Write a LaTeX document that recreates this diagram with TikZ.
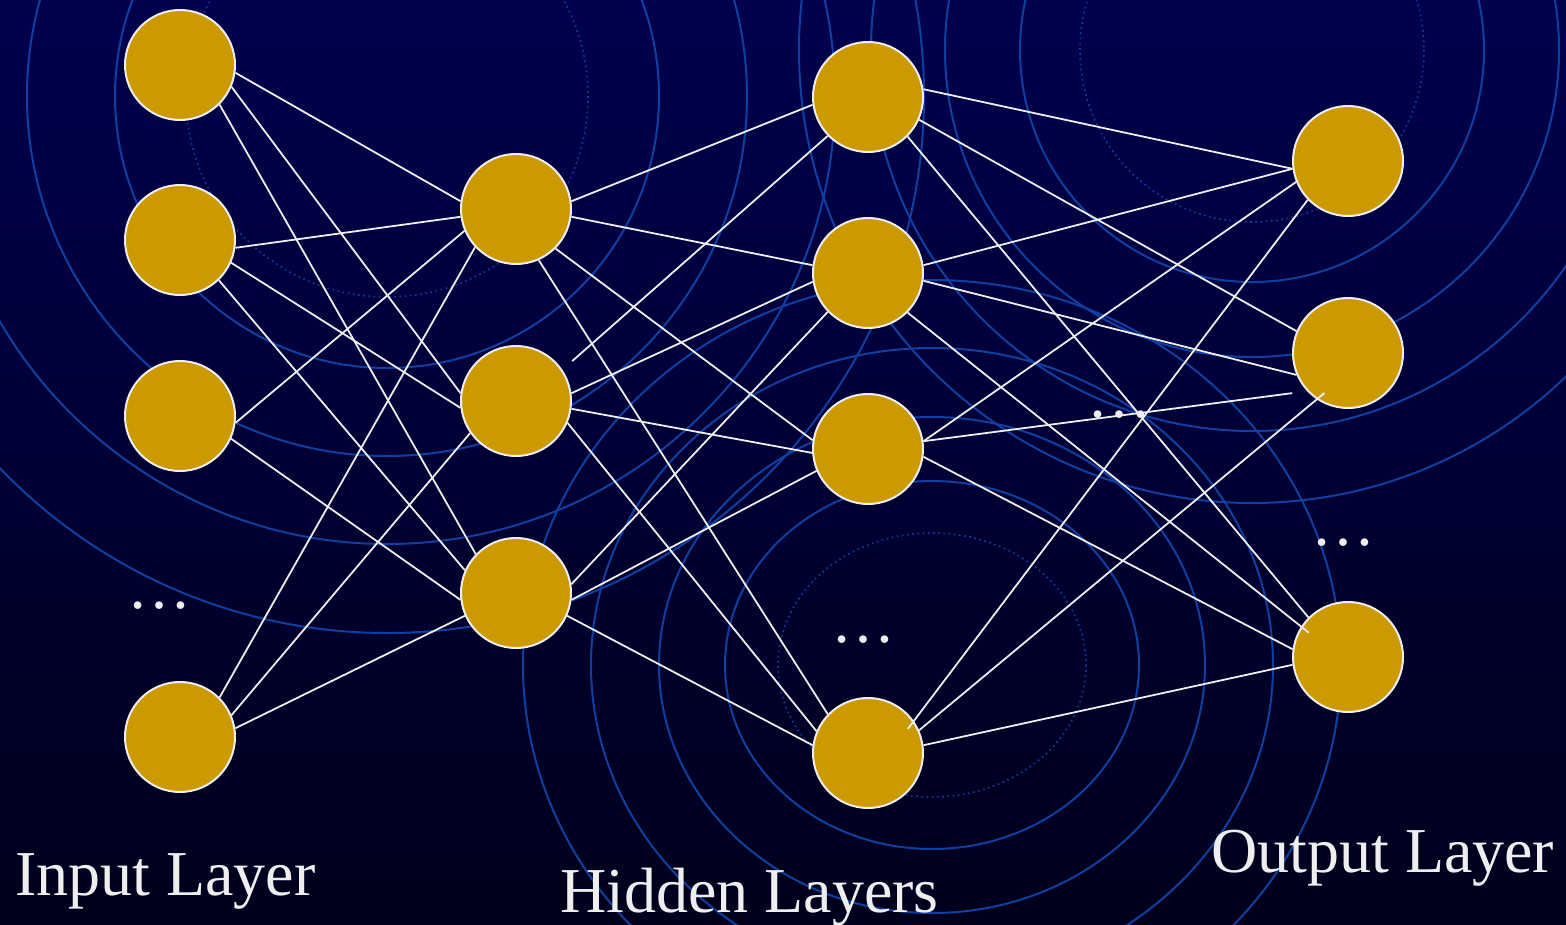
\documentclass[tikz,border=0pt]{standalone}
\usepackage{fontspec}
\setmainfont{Liberation Serif}
\definecolor{bgtop}{HTML}{00004E}
\definecolor{bgmid}{HTML}{000064}
\definecolor{bgbot}{HTML}{00001C}
\definecolor{ringblue}{HTML}{0F3FA0}
\definecolor{neurongold}{HTML}{CC9900}
\definecolor{linkwhite}{HTML}{EEEEEE}

\tikzset{
  neuron/.style={circle,draw=linkwhite,line width=2pt,fill=neurongold,
    minimum size=110pt,inner sep=0pt},
  ring/.style={ringblue,line width=2pt},
  dotring/.style={ringblue,line width=1.6pt,dash pattern=on 1.6pt off 3.6pt},
  link/.style={linkwhite,line width=1.8pt},
  layertext/.style={text=linkwhite,font=\fontsize{64}{70}\selectfont,
    inner sep=0pt,anchor=base west},
  dotstext/.style={text=linkwhite,font=\fontsize{64}{70}\selectfont,
    inner sep=0pt,anchor=base}
}

\begin{document}
\begin{tikzpicture}[x=1pt,y=-1pt]
  \useasboundingbox (0,0) rectangle (1566,924);
  \shade[top color=bgtop,middle color=bgmid,bottom color=bgbot]
    (0,0) rectangle (1566,924);

  % background rings
  \begin{scope}
    \clip (0,0) rectangle (1566,924);
    \draw[dotring] (387,96) circle[radius=201];
    \foreach \r in {272,360,448,537}
      \draw[ring] (387,96) circle[radius=\r];
    \draw[dotring] (1252,50) circle[radius=172];
    \foreach \r in {232,307,381,453}
      \draw[ring] (1252,50) circle[radius=\r];
    \draw[dotring] (932,665) ellipse[x radius=154,y radius=132];
    \foreach \rx/\ry in {207/184,273/248,341/317,409/385}
      \draw[ring] (932,665) ellipse[x radius=\rx,y radius=\ry];
  \end{scope}

  % layers
  \foreach \i/\y in {1/65,2/240,3/416,4/737}
    \node[neuron] (in\i) at (180,\y) {};
  \foreach \i/\y in {1/209,2/401,3/593}
    \node[neuron] (hA\i) at (516,\y) {};
  \foreach \i/\y in {1/97,2/273,3/449,4/753}
    \node[neuron] (hB\i) at (868,\y) {};
  \foreach \i/\y in {1/161,2/353,3/657}
    \node[neuron] (out\i) at (1348,\y) {};

  % connections
  \foreach \a/\b in {in1.352/hA1.172,in1.337/hA2.172,in1.315/hA3.136,
      in2.352/hA1.188,in2.336/hA2.187,in2.314/hA3.156,
      in3.353/hA1.203,in3.336/hA3.187,
      in4.45/hA1.223,in4.23/hA2.215,in4.9/hA3.204}
    \draw[link] (\a) -- (\b);
  \foreach \a/\b in {hA1.8/hB1.188,hA1.352/hB2.172,hA1.315/hB3.171,hA1.294/hB4.136,
      hA2.8/hB2.189,hA2.352/hB3.184,hA2.337/hB4.157,
      hA3.9/hB2.224,hA3.353/hB3.203,hA3.336/hB4.172}
    \draw[link] (\a) -- (\b);
  \draw[link,shorten >=13pt] (hB1.224) -- (hA2.34);
  \foreach \a/\b in {hB1.8/out1.188,hB1.336/out2.157,hB1.315/out3.135,
      hB2.8/out1.188,hB2.352/out2.203,
      hB3.8/out1.202,hB3.352/out3.172,
      hB4.8/out3.188}
    \draw[link] (\a) -- (\b);
  \draw[link,shorten >=-10pt] (hB2.315) -- (out3.147);
  \draw[link,shorten >=15pt] (hB3.8) -- (out2.223);
  \draw[link,shorten <=-10pt] (hB4.35) -- (out1.224);
  \draw[link,shorten >=-10pt] (hB4.24) -- (out2.236);

  % ellipses
  \node[dotstext] (dotsIn) at (159,608) {…};
  \node[dotstext] (dotsHid) at (863,642) {…};
  \node[dotstext] (dotsMid) at (1119,417) {…};
  \node[dotstext] (dotsOut) at (1343,545) {…};

  % labels
  \node[layertext] (lblIn) at (15,895) {Input Layer};
  \node[layertext] (lblHid) at (560,912) {Hidden Layers};
  \node[layertext] (lblOut) at (1211,872) {Output Layer};
\end{tikzpicture}
\end{document}
